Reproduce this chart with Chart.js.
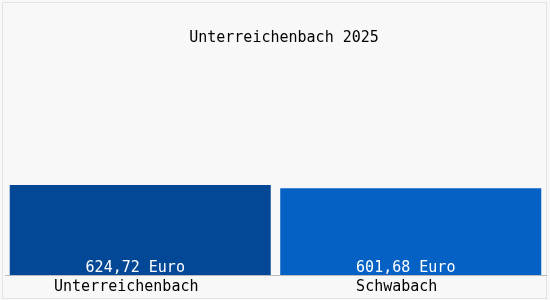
<!DOCTYPE html>
<html>
<head>
<meta charset="utf-8">
<script src="https://cdn.jsdelivr.net/npm/chart.js@4/dist/chart.umd.min.js"></script>
<style>
  html, body { margin: 0; padding: 0; background: #f8f8f8; }
  #wrap { width: 550px; height: 300px; }
</style>
</head>
<body>
<div id="wrap"><canvas id="chart"></canvas></div>
<script>
const titleText = "Unterreichenbach 2025";
const places = ["Unterreichenbach", "Schwabach"];
const prices = [624.72, 601.68];
const priceLabels = ["624,72 Euro", "601,68 Euro"];
const barColors = ["#034896", "#0561c4"];

const monoFont = "'DejaVu Sans Mono', 'Liberation Mono', monospace";

// background, thin frame and the title (drawn a little right of centre, as in the original)
const framePlugin = {
  id: "frame",
  beforeDraw(chart) {
    const { ctx, width, height } = chart;
    ctx.save();
    ctx.fillStyle = "#f8f8f8";
    ctx.fillRect(0, 0, width, height);
    ctx.strokeStyle = "#e4e4e4";
    ctx.lineWidth = 1;
    ctx.strokeRect(2.5, 2.5, width - 6, height - 4);
    ctx.font = "15px " + monoFont;
    ctx.fillStyle = "#000";
    ctx.textAlign = "center";
    ctx.textBaseline = "middle";
    ctx.fillText(titleText, width / 2 + 9, 38);
    ctx.restore();
  }
};

// value text at the foot of each bar
const valueLabels = {
  id: "valueLabels",
  afterDatasetsDraw(chart) {
    const { ctx } = chart;
    const meta = chart.getDatasetMeta(0);
    ctx.save();
    ctx.font = "15px " + monoFont;
    ctx.fillStyle = "#ffffff";
    ctx.textAlign = "center";
    ctx.textBaseline = "middle";
    meta.data.forEach((bar, i) => {
      ctx.fillText(priceLabels[i], bar.x - 5, bar.base - 7);
    });
    ctx.restore();
  }
};

new Chart(document.getElementById("chart"), {
  type: "bar",
  data: {
    labels: places,
    datasets: [{
      data: prices,
      backgroundColor: barColors,
      borderWidth: 0,
      barPercentage: 0.965,
      categoryPercentage: 1
    }]
  },
  options: {
    responsive: true,
    maintainAspectRatio: false,
    animation: false,
    layout: { padding: { left: 5, right: 4, top: 59, bottom: 1 } },
    plugins: {
      legend: { display: false },
      tooltip: { enabled: false },
      title: { display: false }
    },
    scales: {
      x: {
        grid: { display: false, drawTicks: false },
        border: { display: true, color: "#bbbbbb" },
        ticks: {
          color: "#000",
          font: { family: monoFont, size: 15 },
          padding: 3,
          labelOffset: -14,
          maxRotation: 0
        }
      },
      y: {
        display: false,
        min: 0,
        max: 1500
      }
    }
  },
  plugins: [framePlugin, valueLabels]
});
</script>
</body>
</html>
